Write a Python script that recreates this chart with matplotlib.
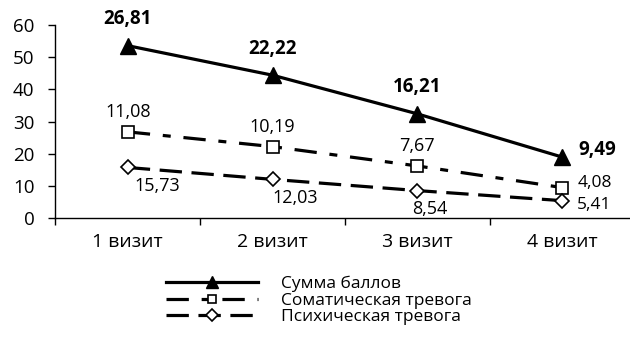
import numpy as np
import matplotlib.pyplot as plt

plt.rcParams['font.family'] = ['Open Sans', 'DejaVu Sans']

visits = ["1 визит", "2 визит", "3 визит", "4 визит"]
psych = [15.73, 12.03, 8.54, 5.41]
somatic = [11.08, 10.19, 7.67, 4.08]
total = [26.81, 22.22, 16.21, 9.49]

# stacked line chart: each series sits on top of the previous ones
psych_y = np.array(psych)
somatic_y = psych_y + np.array(somatic)
total_y = somatic_y + np.array(total)
x = np.arange(len(visits))


def fmt(v):
    return f"{v:.2f}".replace('.', ',')


fig = plt.figure(figsize=(6.3, 3.45), dpi=100)
ax = fig.add_axes([0.088, 0.368, 0.919, 0.559])

ax.plot(x, total_y, color='black', lw=2.3, marker='^', ms=11,
        mfc='black', mec='black', label="Сумма баллов")
ax.plot(x, somatic_y, color='black', lw=2.3, dashes=(7, 4, 2.5, 4),
        marker='s', ms=8, mfc='white', mec='black', mew=1.2,
        label="Соматическая тревога")
ax.plot(x, psych_y, color='black', lw=2.3, dashes=(7, 3),
        marker='D', ms=7.5, mfc='white', mec='black', mew=1.2,
        label="Психическая тревога")

# value labels
for i, v in enumerate(total):
    if i < 3:
        ax.annotate(fmt(v), (x[i], total_y[i]), xytext=(0, 12),
                    textcoords='offset points', ha='center', va='bottom',
                    fontsize=13.5, fontweight='bold')
    else:
        ax.annotate(fmt(v), (x[i], total_y[i]), xytext=(12, 5),
                    textcoords='offset points', ha='left', va='center',
                    fontsize=13.5, fontweight='bold')

for i, v in enumerate(somatic):
    if i < 3:
        ax.annotate(fmt(v), (x[i], somatic_y[i]), xytext=(0, 8),
                    textcoords='offset points', ha='center', va='bottom',
                    fontsize=13)
    else:
        ax.annotate(fmt(v), (x[i], somatic_y[i]), xytext=(11, 3),
                    textcoords='offset points', ha='left', va='center',
                    fontsize=12.5)

psych_off = [(5, -7), (0, -7), (-4, -7), (11, -3)]
for i, v in enumerate(psych):
    dx, dy = psych_off[i]
    if i < 3:
        ax.annotate(fmt(v), (x[i], psych_y[i]), xytext=(dx, dy),
                    textcoords='offset points', ha='left', va='top',
                    fontsize=13)
    else:
        ax.annotate(fmt(v), (x[i], psych_y[i]), xytext=(dx, dy),
                    textcoords='offset points', ha='left', va='center',
                    fontsize=12.5)

ax.set_xlim(-0.5, 3.5)
ax.set_ylim(0, 60)
ax.set_yticks(range(0, 61, 10))
ax.set_xticks(x)
ax.set_xticklabels(visits)
ax.set_xticks(np.arange(-0.5, 3.6, 1), minor=True)
ax.tick_params(axis='x', which='major', length=0, labelsize=14, pad=11)
ax.tick_params(axis='x', which='minor', length=5, width=1)
ax.tick_params(axis='y', labelsize=13.5, length=5, width=1, pad=10)
ax.spines['top'].set_visible(False)
ax.spines['right'].set_visible(False)
for s in ('left', 'bottom'):
    ax.spines[s].set_linewidth(1)

fig.legend(loc='upper left', bbox_to_anchor=(0.25, 0.225), frameon=False,
           fontsize=12.5, handlelength=5.3, handletextpad=1.3,
           labelspacing=0.0, borderpad=0, markerscale=0.75)

fig.savefig("out.png", dpi=100)
